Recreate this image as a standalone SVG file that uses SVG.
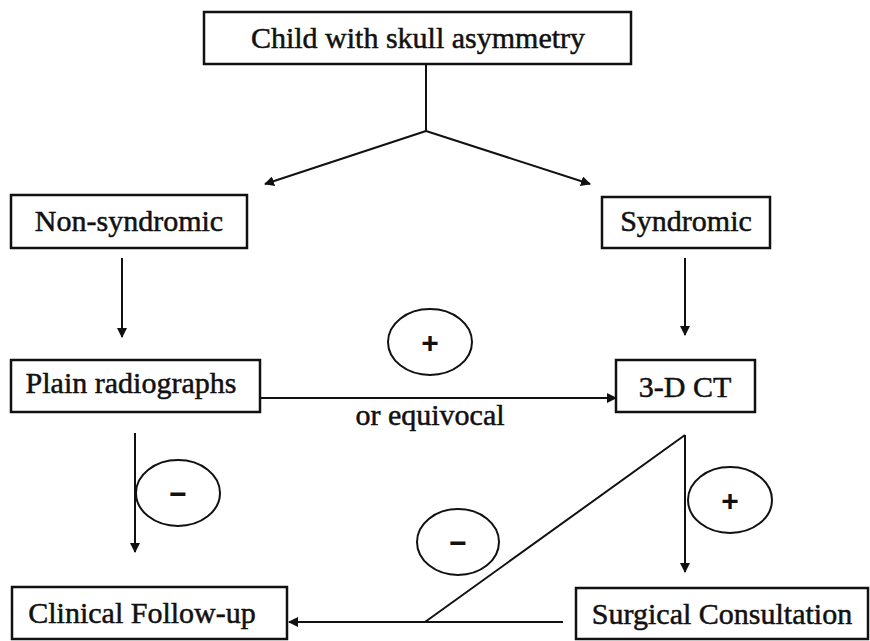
<svg xmlns="http://www.w3.org/2000/svg" width="870" height="641" viewBox="0 0 870 641">
<style>
.box{fill:#fff;stroke:#111;stroke-width:2.5}
.t{font-family:"Liberation Serif","Times New Roman",serif;font-size:30px;fill:#111;text-anchor:middle;stroke:#111;stroke-width:0.5}
.ln{fill:none;stroke:#111;stroke-width:2}
.ov{fill:#fff;stroke:#111;stroke-width:2}
.s{font-family:"Liberation Sans",Arial,sans-serif;font-size:30px;font-weight:bold;fill:#111;text-anchor:middle}
</style>
<defs>
<marker id="a" viewBox="0 0 10 10" refX="9" refY="5" markerWidth="5" markerHeight="5" orient="auto" markerUnits="strokeWidth">
<path d="M0,0 L10,5 L0,10 z" fill="#111"/>
</marker>
</defs>
<rect width="870" height="641" fill="#fff"/>
<g id="connectors">
<polyline class="ln" points="426,64 426,131"/>
<line class="ln" x1="426" y1="131" x2="265" y2="184" marker-end="url(#a)"/>
<line class="ln" x1="426" y1="131" x2="590" y2="184" marker-end="url(#a)"/>
<line class="ln" x1="122" y1="258" x2="122" y2="337" marker-end="url(#a)"/>
<line class="ln" x1="685" y1="258" x2="685" y2="335" marker-end="url(#a)"/>
<line class="ln" x1="260" y1="398" x2="616" y2="398" marker-end="url(#a)"/>
<line class="ln" x1="135" y1="433" x2="135" y2="552" marker-end="url(#a)"/>
<line class="ln" x1="685" y1="435" x2="685" y2="572" marker-end="url(#a)"/>
<polyline class="ln" points="685,435 425,622"/>
<line class="ln" x1="563" y1="622" x2="289" y2="622" marker-end="url(#a)"/>
</g>
<g id="n-top"><rect class="box" x="204" y="12" width="427" height="52"/><text class="t" x="418" y="48">Child with skull asymmetry</text></g>
<g id="n-nonsyn"><rect class="box" x="11" y="195" width="236" height="53"/><text class="t" x="129" y="231">Non-syndromic</text></g>
<g id="n-syn"><rect class="box" x="602" y="197" width="168" height="51"/><text class="t" x="686" y="231">Syndromic</text></g>
<g id="n-plain"><rect class="box" x="11" y="360" width="249" height="52"/><text class="t" x="131" y="393">Plain radiographs</text></g>
<g id="n-ct"><rect class="box" x="616" y="360" width="139" height="52"/><text class="t" x="685" y="397">3-D CT</text></g>
<g id="n-clin"><rect class="box" x="12" y="587" width="275" height="52"/><text class="t" x="142" y="623">Clinical Follow-up</text></g>
<g id="n-surg"><rect class="box" x="576" y="588" width="292" height="51"/><text class="t" x="722" y="624">Surgical Consultation</text></g>
<g id="labels">
<text class="t" x="430" y="425">or equivocal</text>
<g id="plus1"><ellipse class="ov" cx="430" cy="342" rx="42" ry="33"/><text class="s" x="430" y="353">+</text></g>
<g id="minus1"><ellipse class="ov" cx="178" cy="493" rx="42" ry="33"/><text class="s" x="178" y="504">−</text></g>
<g id="minus2"><ellipse class="ov" cx="458" cy="542" rx="41" ry="33"/><text class="s" x="458" y="553">−</text></g>
<g id="plus2"><ellipse class="ov" cx="730" cy="500" rx="42" ry="33"/><text class="s" x="730" y="511">+</text></g>
</g>
</svg>
